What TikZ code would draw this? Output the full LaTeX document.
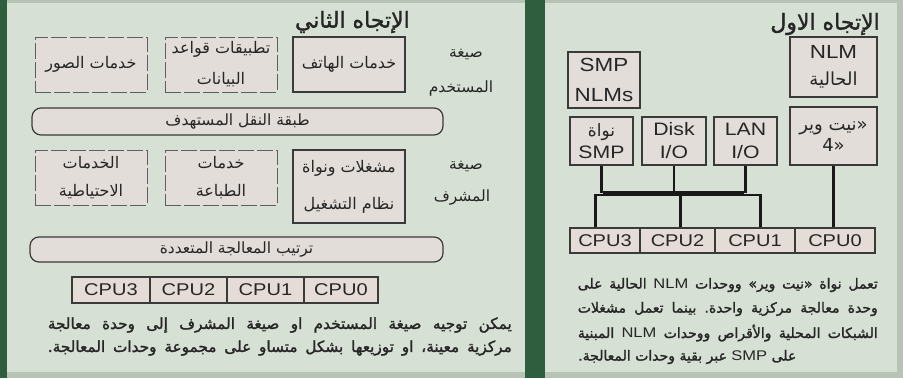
\documentclass[tikz,border=0pt]{standalone}
\usepackage{fontspec}
\TeXXeTstate=1
\frenchspacing
\newfontfamily\arf[Script=Arabic]{DejaVu Sans}
\newfontfamily\arbf[Script=Arabic,FakeBold=1.6]{DejaVu Sans}
\newfontfamily\laf[FakeStretch=1.18]{Liberation Sans}
\newcommand\artxt[1]{\beginR#1\endR}
\newcommand\lat[1]{\beginL{\laf #1}\endL{}}
\definecolor{panel}{HTML}{D7E0D4}
\definecolor{outer}{HTML}{B7C3B4}
\definecolor{dgreen}{HTML}{2F5E3E}
\definecolor{boxfill}{HTML}{E2DDD8}
\definecolor{cpufill}{HTML}{E5DBD7}
\definecolor{linecol}{HTML}{3A3A3A}
\definecolor{dashcol}{HTML}{5E5E5E}
\definecolor{txt}{HTML}{262626}
\begin{document}
\begin{tikzpicture}[x=1pt,y=-1pt,
  sbox/.style={draw=linecol, line width=1.2pt, fill=boxfill, inner sep=0pt, align=center, text=txt},
  dbox/.style={sbox, draw=dashcol, line width=0.9pt, dash pattern=on 16pt off 3pt},
  bar/.style={draw=linecol, line width=1.2pt, fill=boxfill, rounded corners=9pt, inner sep=0pt, text=txt},
  cpu/.style={draw=linecol, line width=1.1pt, fill=cpufill, inner sep=0pt, minimum height=26pt, text=txt, font=\laf\fontsize{17}{17}\selectfont},
  wire/.style={draw=black!90, line width=2.2pt},
  artext/.style={text=txt, inner sep=0pt, font=\arf\fontsize{15.5}{17}\selectfont},
  boldtext/.style={text=txt, inner sep=0pt, font=\arbf\fontsize{14}{16}\selectfont},
  ttl/.style={text=txt, inner sep=0pt, font=\arbf\fontsize{22}{24}\selectfont},
]
\useasboundingbox (0,0) rectangle (903,378);
\fill[outer] (0,0) rectangle (903,378);
\fill[dgreen] (0,0) rectangle (7,378);
\fill[dgreen] (525,0) rectangle (545,378);
\fill[panel] (7,3) rectangle (525,372);
\fill[panel] (545,3) rectangle (897,372);

% ---------- left panel ----------
\node[ttl, anchor=east] (titleL) at (410,22) {\artxt{الإتجاه الثاني}};

\node[dbox, minimum width=112pt, minimum height=55pt, font=\arf\fontsize{16}{30}\selectfont] (photo) at (91,64.5) {\artxt{خدمات الصور}};
\node[dbox, minimum width=112pt, minimum height=55pt, font=\arf\fontsize{16}{31}\selectfont] (db) at (221,64.5) {\artxt{تطبيقات قواعد}\\\artxt{البيانات}};
\node[sbox, minimum width=112pt, minimum height=55pt, font=\arf\fontsize{16}{30}\selectfont] (phone) at (349,64.5) {\artxt{خدمات الهاتف}};

\node[bar, minimum width=411pt, minimum height=27pt, font=\arf\fontsize{15.5}{17}\selectfont] (transport) at (237.5,121.5) {\artxt{طبقة النقل المستهدف}};

\node[dbox, minimum width=112pt, minimum height=55pt, font=\arf\fontsize{16}{28}\selectfont] (backup) at (91,177.5) {\artxt{الخدمات}\\\artxt{الاحتياطية}};
\node[dbox, minimum width=112pt, minimum height=55pt, font=\arf\fontsize{16}{28}\selectfont] (print) at (221,177.5) {\artxt{خدمات}\\\artxt{الطباعة}};
\node[sbox, minimum width=112pt, minimum height=73pt, font=\arf\fontsize{16}{37}\selectfont] (os) at (349,186.5) {\artxt{مشغلات ونواة}\\\artxt{نظام التشغيل}};

\node[bar, minimum width=413pt, minimum height=25pt, font=\arf\fontsize{15.5}{17}\selectfont] (mp) at (236.5,249.5) {\artxt{ترتيب المعالجة المتعددة}};

\node[artext] (user1) at (466,54) {\artxt{صيغة}};
\node[artext] (user2) at (461,88) {\artxt{المستخدم}};
\node[artext] (sup1) at (466,166) {\artxt{صيغة}};
\node[artext] (sup2) at (462,198) {\artxt{المشرف}};

\node[cpu, minimum width=78pt] (lc3) at (111,290) {CPU3};
\node[cpu, minimum width=77pt] (lc2) at (188.5,290) {CPU2};
\node[cpu, minimum width=77pt] (lc1) at (265.5,290) {CPU1};
\node[cpu, minimum width=74pt] (lc0) at (341,290) {CPU0};

\node[boldtext, anchor=east, font=\arbf\fontsize{15.3}{17}\selectfont] (lt1) at (512,325) {\hbox to 464pt{\artxt{يمكن توجيه صيغة المستخدم او صيغة المشرف إلى وحدة معالجة}}};
\node[boldtext, anchor=east, font=\arbf\fontsize{15.3}{17}\selectfont] (lt2) at (512,348) {\hbox to 464pt{\artxt{مركزية معينة، او توزيعها بشكل متساو على مجموعة وحدات المعالجة.}}};

% ---------- right panel ----------
\node[ttl, anchor=east] (titleR) at (880,24) {\artxt{الإتجاه الاول}};

\node[sbox, minimum width=87pt, minimum height=60pt, font=\laf\fontsize{19}{27}\selectfont] (nlmcur) at (833.5,67) {NLM\\{\arf\fontsize{18}{20}\selectfont\artxt{الحالية}}};
\node[sbox, minimum width=72pt, minimum height=56pt, font=\laf\fontsize{19}{30}\selectfont] (smpnlm) at (604,80) {SMP\\NLMs};
\node[sbox, minimum width=63pt, minimum height=48pt, font=\laf\fontsize{18}{22}\selectfont] (kernel) at (601.5,141) {{\arf\fontsize{17}{19}\selectfont\artxt{نواة}}\\SMP};
\node[sbox, minimum width=64pt, minimum height=48pt, font=\laf\fontsize{18}{23}\selectfont] (disk) at (674,141) {Disk\\I/O};
\node[sbox, minimum width=63pt, minimum height=48pt, font=\laf\fontsize{18}{23}\selectfont] (lan) at (745.5,141) {LAN\\I/O};
\node[sbox, minimum width=87pt, minimum height=58pt, font=\arf\fontsize{18}{21}\selectfont] (netware) at (833.5,136) {\artxt{«نيت وير}\\\mbox{«4}};

\node[cpu, minimum width=70pt, minimum height=25pt] (rc3) at (605,240.5) {CPU3};
\node[cpu, minimum width=75pt, minimum height=25pt] (rc2) at (677.5,240.5) {CPU2};
\node[cpu, minimum width=80pt, minimum height=25pt] (rc1) at (755,240.5) {CPU1};
\node[cpu, minimum width=80pt, minimum height=25pt] (rc0) at (835,240.5) {CPU0};

\coordinate (busTL) at (603,192.5);
\coordinate (busTR) at (744,192.5);
\coordinate (busBL) at (595.5,195);
\coordinate (busBM) at (680.5,195);
\coordinate (busBR) at (760.5,195);

\draw[wire] (kernel.south) -- (kernel.south |- busTL);
\draw[wire] (disk.south) -- (disk.south |- busTL);
\draw[wire] (lan.south) -- (lan.south |- busTL);
\draw[wire] (busTL) -- (busTR);
\draw[wire] (busBL |- rc3.north) -- (busBL) -- (busBR) -- (busBR |- rc1.north);
\draw[wire] (busBM) -- (busBM |- rc2.north);
\draw[wire] (netware.south) -- (netware.south |- rc0.north);

\node[boldtext, anchor=east] (rt1) at (878,285) {\hbox to 300pt{\artxt{تعمل نواة «نيت وير» ووحدات \lat{NLM} الحالية على}}};
\node[boldtext, anchor=east] (rt2) at (878,309) {\hbox to 300pt{\artxt{وحدة معالجة مركزية واحدة. بينما تعمل مشغلات}}};
\node[boldtext, anchor=east] (rt3) at (878,333) {\hbox to 300pt{\artxt{الشبكات المحلية والأقراص ووحدات \lat{NLM} المبنية}}};
\node[boldtext, anchor=west] (rt4) at (578,357) {\artxt{على \lat{SMP} عبر بقية وحدات المعالجة.}};
\end{tikzpicture}
\end{document}
